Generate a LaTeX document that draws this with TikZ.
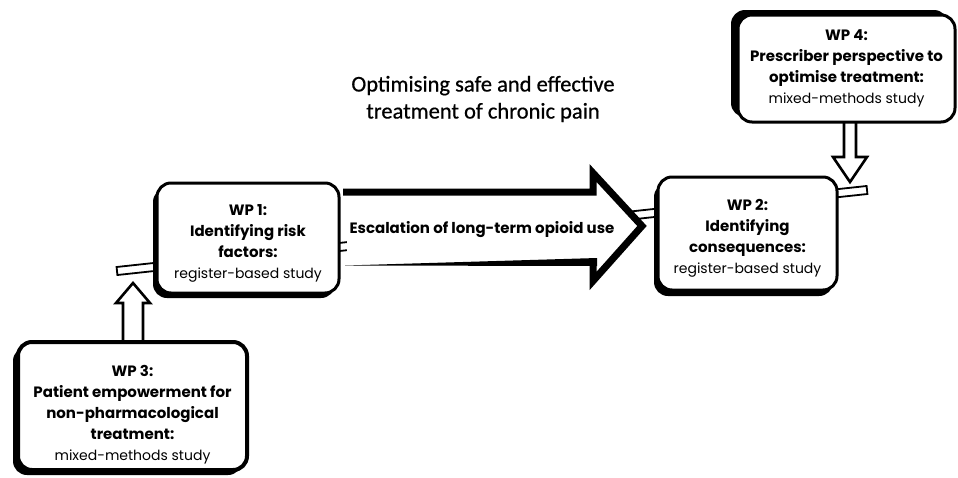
\documentclass[tikz,border=0pt]{standalone}
\usepackage{fontspec}
\setmainfont{Poppins}
\newfontfamily\titlefont[FakeBold=0.6]{Carlito}
\usetikzlibrary{shadows,calc}
\newcommand\wpreg[1]{{\mdseries\fontsize{14}{21}\selectfont #1}}
\begin{document}
\begin{tikzpicture}[x=1pt,y=-1pt,
  wpbox/.style={draw, line width=3pt, fill=white, rounded corners=14pt, inner sep=0pt},
  wptext/.style={align=center, font=\bfseries\fontsize{15}{21}\selectfont, inner sep=0pt},
  rail/.style={draw, line width=1.8pt, fill=white, line join=miter},
  hollowarrow/.style={draw, line width=2.6pt, fill=white, line join=miter},
  bigarrow/.style={draw, line width=7pt, line join=miter, miter limit=20}
]
\useasboundingbox (0,0) rectangle (958,477);

% rail behind everything
\draw[rail] (116.6,267) -- (866.6,186) -- (867.4,194) -- (117.4,275) -- cycle;

% hollow arrows (drawn before boxes so boxes cover the shaft ends)
\coordinate (t3) at (133,283);
\draw[hollowarrow] (123,346) -- (123,303) -- (116,303) -- (t3) -- (150,303) -- (143,303) -- (143,346) -- cycle;
\coordinate (t4) at (850,182);
\draw[hollowarrow] (844,118) -- (844,157) -- (833,157) -- (t4) -- (867,157) -- (856,157) -- (856,118) -- cycle;

% boxes
\node[wpbox, minimum width=182pt, minimum height=110pt,
  general shadow={fill=black, shadow xshift=-4pt, shadow yshift=-5pt}] (wp1) at (248,238) {};
\node[wpbox, minimum width=179pt, minimum height=113pt,
  general shadow={fill=black, shadow xshift=-4pt, shadow yshift=-6pt}] (wp2) at (747.5,233.5) {};
\node[wpbox, line width=4pt, minimum width=229pt, minimum height=128pt,
  general shadow={fill=black, shadow xshift=-5pt, shadow yshift=-5pt}] (wp3) at (132.5,406) {};
\node[wpbox, minimum width=217pt, minimum height=107pt,
  general shadow={fill=black, shadow xshift=-7pt, shadow yshift=5pt}] (wp4) at (846.5,68.5) {};

\node[wptext] (wp1t) at (248,243)
  {WP 1:\\Identifying risk\\factors:\\\wpreg{register-based study}};
\node[wptext] (wp2t) at (747.5,238)
  {WP 2:\\Identifying\\consequences:\\\wpreg{register-based study}};
\node[wptext] (wp3t) at (132.5,415)
  {WP 3:\\Patient empowerment for\\non-pharmacological\\treatment:\\\wpreg{mixed-methods study}};
\node[wptext] (wp4t) at (846.5,68)
  {WP 4:\\Prescriber perspective to\\optimise treatment:\\\wpreg{mixed-methods study}};

% big arrow
\fill[white] (347,192) -- (593,192) -- (593,173) -- (645,226) -- (593,283) -- (593,262) -- (347,265) -- cycle;
\draw[bigarrow] (343,192) -- (593,192) -- (593,173) -- (642,226) -- (593,281) -- (593,259);
\fill (345,265.5) -- (597,258) -- (597,266) -- cycle;
\node[font=\bfseries\fontsize{15}{18}\selectfont] (esc) at (482,230) {Escalation of long-term opioid use};

% title
\node[font=\titlefont\fontsize{22.5}{27}\selectfont, align=center] (title) at (483,99)
  {Optimising safe and effective\\treatment of chronic pain};
\end{tikzpicture}
\end{document}
